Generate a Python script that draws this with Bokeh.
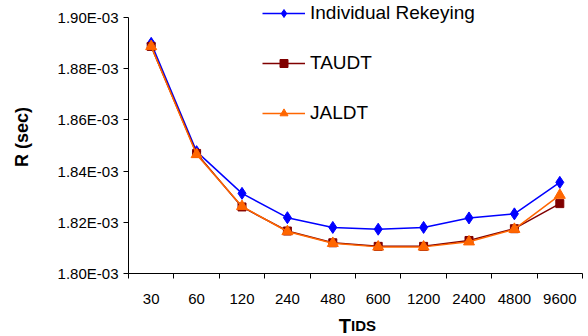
import numpy as np
from bokeh.plotting import figure
from bokeh.layouts import column
from bokeh.models import (Range1d, FixedTicker, CustomJSTickFormatter, Legend,
                          LegendItem)
from bokeh.core.properties import value
from bokeh.embed import file_html
from bokeh.resources import INLINE

# ---- data (R in seconds) ----
categories = ["30", "60", "120", "240", "480", "600", "1200", "2400", "4800", "9600"]
individual_rekeying = [1.8899e-3, 1.8476e-3, 1.8313e-3, 1.8218e-3, 1.8180e-3,
                       1.8173e-3, 1.8180e-3, 1.8217e-3, 1.8233e-3, 1.8356e-3]
taudt = [1.8887e-3, 1.8469e-3, 1.8260e-3, 1.8166e-3, 1.8120e-3,
         1.8106e-3, 1.8106e-3, 1.8129e-3, 1.8175e-3, 1.8273e-3]
jaldt = [1.8887e-3, 1.8465e-3, 1.8262e-3, 1.8164e-3, 1.8118e-3,
         1.8104e-3, 1.8104e-3, 1.8124e-3, 1.8173e-3, 1.8306e-3]
y_ticks = [1.80e-3, 1.82e-3, 1.84e-3, 1.86e-3, 1.88e-3, 1.90e-3]
series_names = ["Individual Rekeying", "TAUDT", "JALDT"]
x_title_parts = ["T", "IDS"]   # small-caps "TIDS"

FONT = "Liberation Sans"

n = len(categories)
xs = np.arange(n) + 0.5

FRAME_H = 273
TICK_PX = 256
y_top = y_ticks[0] + (y_ticks[-1] - y_ticks[0]) * FRAME_H / TICK_PX

p = figure(width=588, height=306, output_backend="svg", toolbar_location=None,
           x_range=Range1d(0, n), y_range=Range1d(y_ticks[0], y_top),
           min_border_left=128, min_border_right=6, min_border_top=0,
           min_border_bottom=33)
p.outline_line_color = None
p.grid.visible = False
p.background_fill_color = "white"
p.border_fill_color = "white"

xa = p.xaxis[0]
xa.ticker = FixedTicker(ticks=list(xs), minor_ticks=list(np.arange(n + 1)))
xa.major_label_overrides = {float(x): c for x, c in zip(xs, categories)}
xa.major_tick_out = 0
xa.major_tick_in = 0
xa.minor_tick_out = 5
xa.minor_tick_in = 0
xa.minor_tick_line_color = "black"
xa.axis_line_color = "black"
xa.major_label_text_font = FONT
xa.major_label_text_font_size = "15px"
xa.major_label_text_color = "black"
xa.major_label_standoff = 15

ya = p.yaxis[0]
ya.bounds = (y_ticks[0], y_ticks[-1])
ya.ticker = FixedTicker(ticks=y_ticks, minor_ticks=[])
ya.formatter = CustomJSTickFormatter(code="return (tick*1000).toFixed(2) + 'E-03';")
ya.major_tick_out = 5
ya.major_tick_in = 0
ya.axis_line_color = "black"
ya.major_tick_line_color = "black"
ya.major_label_text_font = FONT
ya.major_label_text_font_size = "15px"
ya.major_label_text_color = "black"
ya.major_label_standoff = 5
ya.axis_label = "R (sec)"
ya.axis_label_text_font = FONT
ya.axis_label_text_font_size = "18px"
ya.axis_label_text_font_style = "bold"
ya.axis_label_text_color = "black"
ya.axis_label_standoff = 23

colors = ["#0000FF", "#800000", "#FF6600"]
markers = ["diamond", "square", "triangle"]
sizes = [12, 8, 11]
items = []
for name, vals, col, mk, sz in zip(series_names, [individual_rekeying, taudt, jaldt],
                                   colors, markers, sizes):
    ln = p.line(xs, vals, line_color=col, line_width=1.5)
    sc = p.scatter(xs, vals, marker=mk, size=sz, fill_color=col, line_color=col)
    items.append(LegendItem(label=name, renderers=[ln, sc]))

legend = Legend(items=items, location=(134, 149), padding=0, margin=0,
                border_line_alpha=0, background_fill_alpha=0,
                glyph_width=43, glyph_height=20, label_height=20, spacing=28,
                label_standoff=5, label_text_font=FONT,
                label_text_font_size="19px", label_text_color="black")
p.add_layout(legend)

# x-axis title strip ("TIDS" in small caps), sharing the main x range
t = figure(width=588, height=30, output_backend="svg", toolbar_location=None,
           title=None, x_axis_type=None, y_axis_type=None,
           x_range=p.x_range, y_range=Range1d(0, 30),
           min_border=0, min_border_left=128, min_border_right=6,
           min_border_top=0, min_border_bottom=0)
t.grid.visible = False
t.outline_line_color = None
t.border_fill_color = "white"
t.background_fill_color = "white"
t.text(x=[4.632], y=[11], text=[x_title_parts[0]], text_font=value(FONT),
       text_font_size="20px", text_font_style="bold", text_color="black",
       text_baseline="alphabetic")
t.text(x=[4.90], y=[11], text=[x_title_parts[1]], text_font=value(FONT),
       text_font_size="15px", text_font_style="bold", text_color="black",
       text_baseline="alphabetic")

layout = column(p, t, spacing=0)
open("out.html", "w").write(file_html(layout, INLINE))
